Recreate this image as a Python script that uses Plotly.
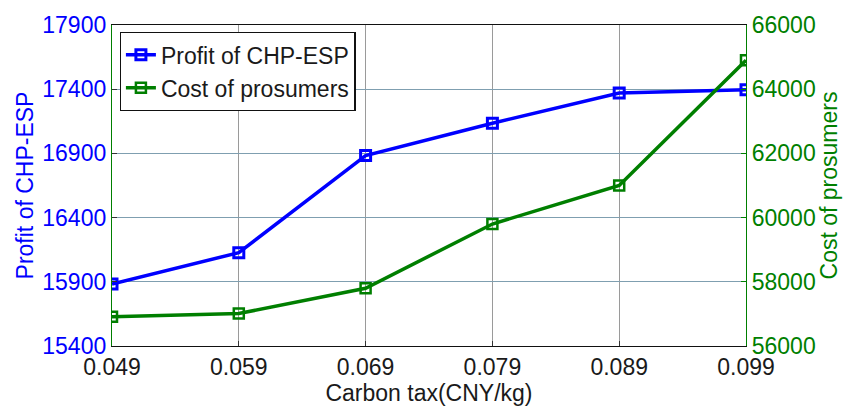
import plotly.graph_objects as go

# Carbon tax levels (CNY/kg)
carbon_tax = [0.049, 0.059, 0.069, 0.079, 0.089, 0.099]
x_tick_labels = ["0.049", "0.059", "0.069", "0.079", "0.089", "0.099"]

# Profit of the CHP-ESP (left axis)
profit_chp_esp = [15883, 16127, 16883, 17135, 17370, 17395]
profit_ticks = [15400, 15900, 16400, 16900, 17400, 17900]

# Cost of prosumers (right axis)
cost_prosumers = [56910, 57010, 57800, 59800, 61000, 64900]
cost_ticks = [56000, 58000, 60000, 62000, 64000, 66000]

BLUE = "#0000ff"
GREEN = "#007f00"
DARK = "#1a1a1a"
FONT = "Liberation Sans, Arial, Helvetica, sans-serif"
FS = 23

fig = go.Figure()

fig.add_trace(go.Scatter(
    x=carbon_tax, y=profit_chp_esp, name="Profit of CHP-ESP",
    mode="lines+markers",
    line=dict(color=BLUE, width=3.5),
    marker=dict(symbol="square-open", size=10, color=BLUE, line=dict(color=BLUE, width=3)),
    yaxis="y",
))
fig.add_trace(go.Scatter(
    x=carbon_tax, y=cost_prosumers, name="Cost of prosumers",
    mode="lines+markers",
    line=dict(color=GREEN, width=3.5),
    marker=dict(symbol="square-open", size=10, color=GREEN, line=dict(color=GREEN, width=2.5)),
    yaxis="y2",
))

fig.update_layout(
    width=846, height=408,
    margin=dict(l=112, r=96, t=18, b=60),
    paper_bgcolor="white", plot_bgcolor="white",
    font=dict(family=FONT, size=FS, color=DARK),
    showlegend=True,
    legend=dict(
        x=0.012, y=0.978, xanchor="left", yanchor="top",
        bgcolor="white", bordercolor="#111111", borderwidth=1.3,
        font=dict(size=FS, color=DARK),
        tracegroupgap=0, itemwidth=30,
    ),
    xaxis=dict(
        range=[0.049, 0.099], tickvals=carbon_tax, ticktext=x_tick_labels,
        showgrid=True, gridcolor="#9a9a9a", gridwidth=1,
        showline=True, linecolor="#111111", linewidth=1.3, mirror=True,
        ticks="inside", ticklen=5, tickcolor="#333333",
        tickfont=dict(size=FS, color=DARK),
        title=dict(text="Carbon tax(CNY/kg)", font=dict(size=FS, color=DARK), standoff=0),
        zeroline=False,
    ),
    yaxis=dict(
        range=[15400, 17900], tickvals=profit_ticks,
        ticktext=[str(v) for v in profit_ticks],
        showgrid=True, gridcolor="#7f9fb0", gridwidth=1,
        showline=True, linecolor=GREEN, linewidth=1.3,
        ticks="inside", ticklen=5, tickcolor="#333333",
        tickfont=dict(size=FS, color=BLUE),
        title=dict(text="Profit of CHP-ESP", font=dict(size=FS, color=BLUE), standoff=2),
        zeroline=False,
    ),
    yaxis2=dict(
        range=[56000, 66000], tickvals=cost_ticks,
        ticktext=[str(v) for v in cost_ticks],
        overlaying="y", side="right",
        showgrid=False,
        showline=True, linecolor=GREEN, linewidth=1.3,
        ticks="inside", ticklen=5, tickcolor=GREEN,
        tickfont=dict(size=FS, color=GREEN),
        title=dict(text="Cost of prosumers", font=dict(size=FS, color=GREEN), standoff=2),
        zeroline=False,
    ),
)

fig.write_html("out.html")
